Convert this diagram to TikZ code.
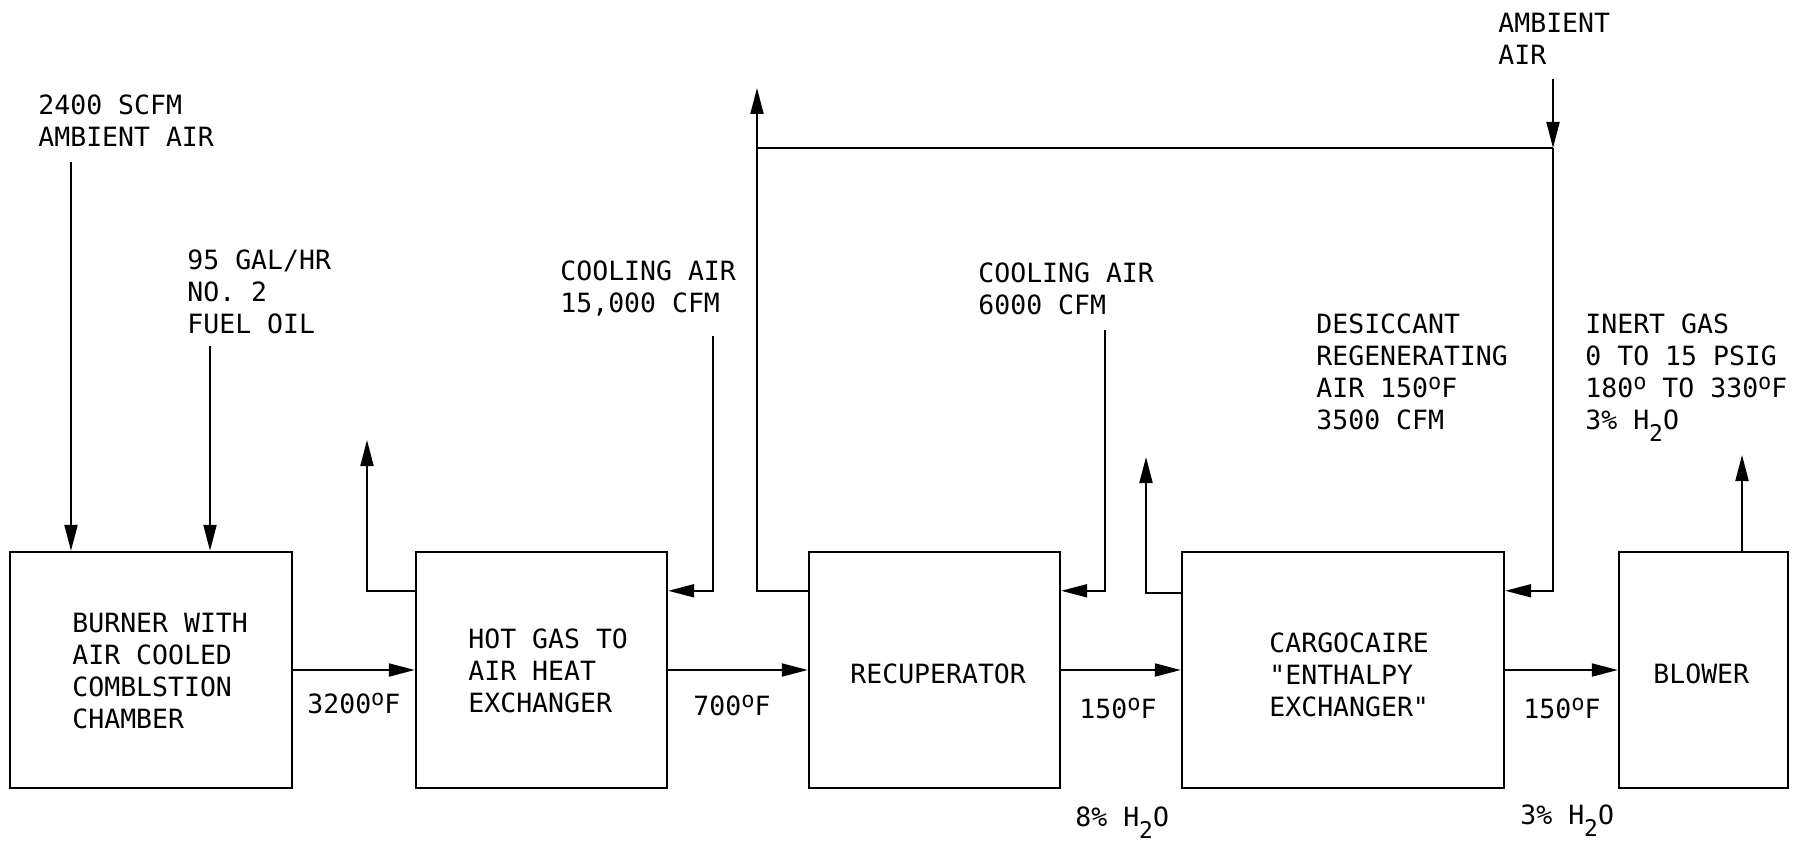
\documentclass[tikz,border=0pt]{standalone}
\usepackage{fontspec}
\newfontfamily\lblfont{DejaVu Sans Mono}
\usetikzlibrary{arrows.meta}
\newcommand{\degO}{\raisebox{3.6pt}{\fontsize{11pt}{11pt}\selectfont o}}
\newcommand{\subtwo}{\raisebox{-6pt}{\fontsize{11.5pt}{11pt}\selectfont 2}}
\begin{document}
\begin{tikzpicture}[x=0.5pt,y=-0.5pt,
 box/.style={draw, line width=1.2pt, minimum height=118pt, inner sep=0pt},
 lbl/.style={inner sep=0pt, align=left, font=\lblfont\fontsize{13.25pt}{16pt}\selectfont},
 flow/.style={line width=1pt, -{Triangle[length=13pt,width=6.5pt]}},
 plain/.style={line width=1pt}]
\useasboundingbox[fill=white] (0,0) rectangle (1802,850);
% boxes
\node[box, minimum width=141pt] (burner) at (151,670) {};
\node[box, minimum width=125.5pt] (hx) at (541.5,670) {};
\node[box, minimum width=125.5pt] (recup) at (934.5,670) {};
\node[box, minimum width=161pt] (cargo) at (1343,670) {};
\node[box, minimum width=84.5pt] (blower) at (1703.5,670) {};
% box texts
\node[lbl, anchor=north west] (tburner) at (72,613) {BURNER WITH\\AIR COOLED\\COMBLSTION\\CHAMBER};
\node[lbl, anchor=north west] (thx) at (468,628) {HOT GAS TO\\AIR HEAT\\EXCHANGER};
\node[lbl, anchor=base west] (trecup) at (850,683) {RECUPERATOR};
\node[lbl, anchor=north west] (tcargo) at (1269,632) {CARGOCAIRE\\"ENTHALPY\\EXCHANGER"};
\node[lbl, anchor=base west] (tblower) at (1653,683) {BLOWER};
% stream labels
\node[lbl, anchor=base west] (t3200) at (307,713) {3200\degO F};
\node[lbl, anchor=base west] (t700) at (693,715) {700\degO F};
\node[lbl, anchor=base west] (t150a) at (1079,718) {150\degO F};
\node[lbl, anchor=base west] (th2oa) at (1075,826) {8\% H\subtwo O};
\node[lbl, anchor=base west] (t150b) at (1523,718) {150\degO F};
\node[lbl, anchor=base west] (th2ob) at (1520,824) {3\% H\subtwo O};
\node[lbl, anchor=north west] (tamb1) at (38,94) {2400 SCFM\\AMBIENT AIR};
\node[lbl, anchor=north west] (tfuel) at (187,249) {95 GAL/HR\\NO. 2\\FUEL OIL};
\node[lbl, anchor=north west] (tcool1) at (560,260) {COOLING AIR\\15,000 CFM};
\node[lbl, anchor=north west] (tcool2) at (978,262) {COOLING AIR\\6000 CFM};
\node[lbl, anchor=north west] (tdes) at (1316,313) {DESICCANT\\REGENERATING\\AIR 150\degO F\\3500 CFM};
\node[lbl, anchor=north west] (tinert) at (1585,313) {INERT GAS\\0 TO 15 PSIG\\180\degO{} TO 330\degO F\\3\% H\subtwo O};
\node[lbl, anchor=north west] (tamb2) at (1498,13) {AMBIENT\\AIR};
% connectors
\coordinate (a1) at (71,162);
\coordinate (f1) at (210,346);
\draw[flow] (a1) -- (a1 |- burner.north);
\draw[flow] (f1) -- (f1 |- burner.north);
\draw[flow] (burner.east) -- (hx.west);
\coordinate (hxex) at (367,440);
\draw[flow] ([yshift=-20pt]hx.north west) -| (hxex);
\coordinate (c1) at (713,336);
\draw[flow] (c1) |- ([yshift=-20pt]hx.north east);
\draw[flow] (hx.east) -- (recup.west);
\coordinate (rex) at (757,88);
\draw[flow] ([yshift=-20pt]recup.north west) -| (rex);
\coordinate (amb) at (1553,79);
\coordinate (jn) at (1553,148);
\draw[flow] (amb) -- (jn);
\draw[plain] (jn) -- (jn -| rex);
\draw[flow] (jn) |- ([yshift=-20pt]cargo.north east);
\coordinate (c2) at (1105,330);
\draw[flow] (c2) |- ([yshift=-20pt]recup.north east);
\draw[flow] (recup.east) -- (cargo.west);
\coordinate (cex) at (1146,457);
\draw[flow] ([yshift=-21pt]cargo.north west) -| (cex);
\draw[flow] (cargo.east) -- (blower.west);
\coordinate (bex) at (1742,455);
\draw[flow] (bex |- blower.north) -- (bex);
\end{tikzpicture}
\end{document}
